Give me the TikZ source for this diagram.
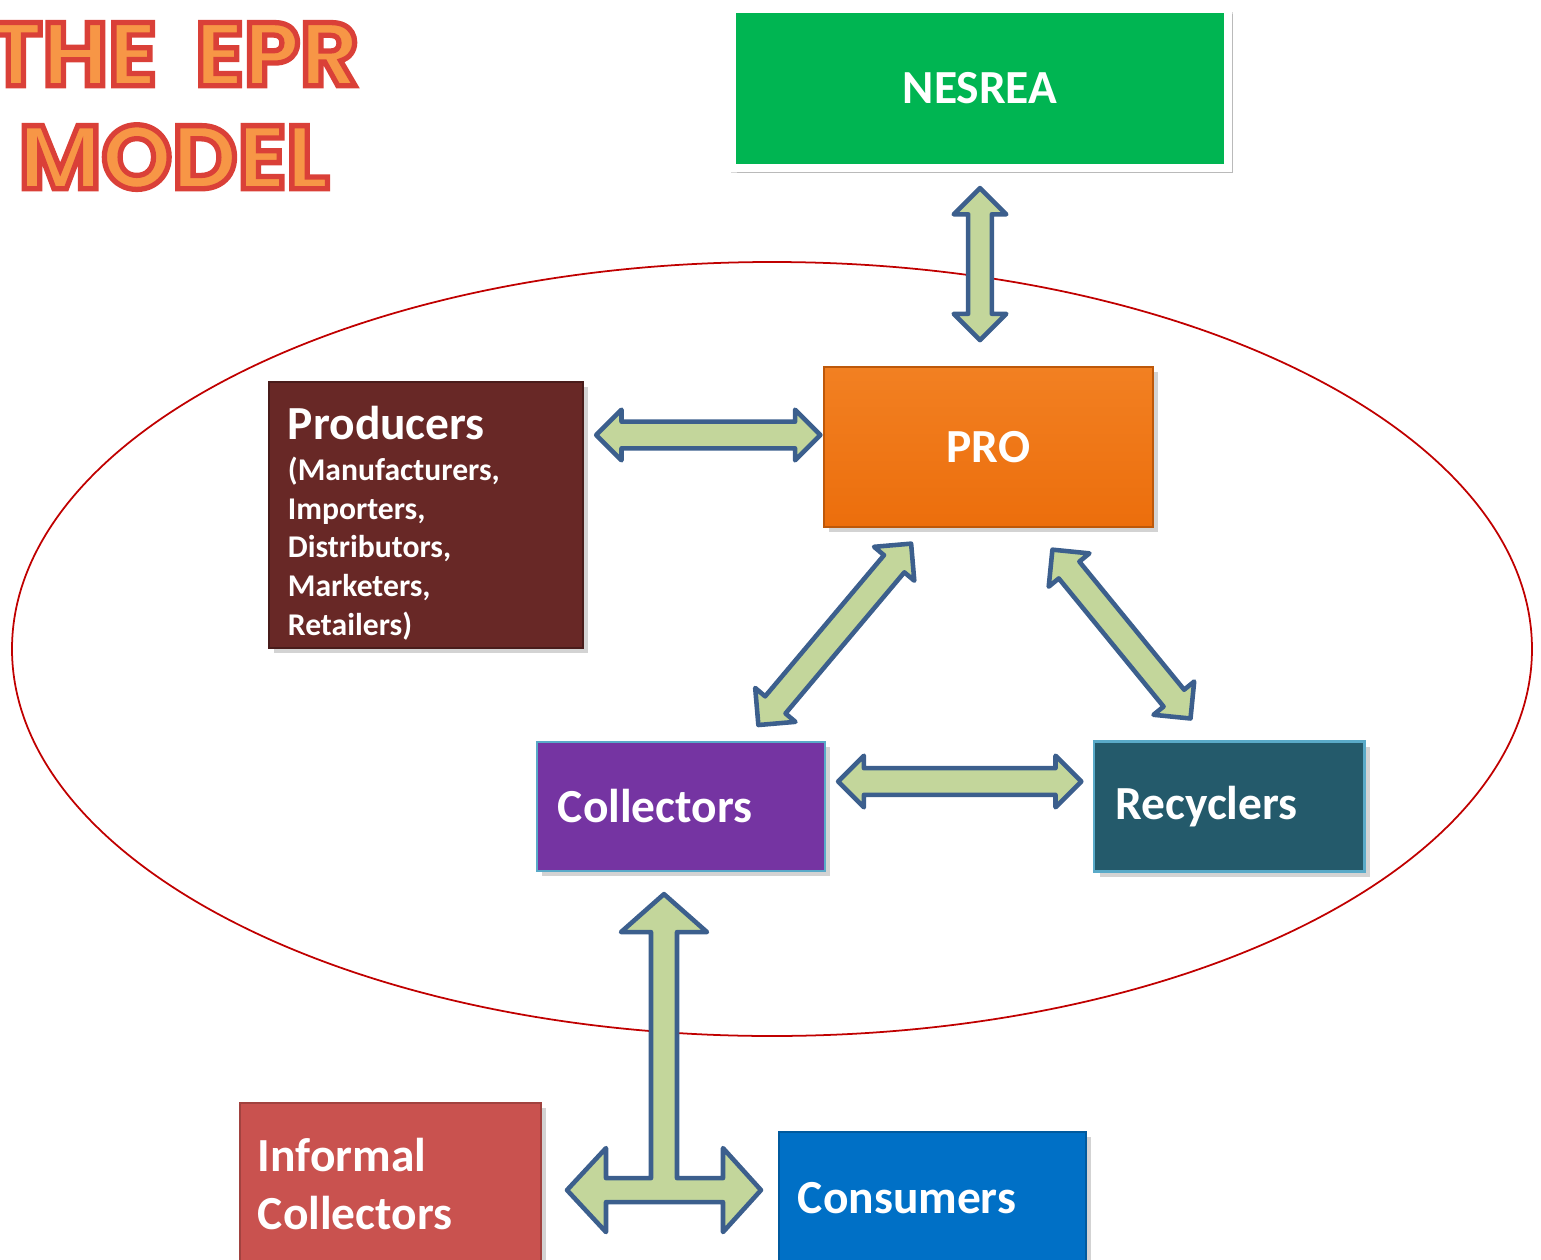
\documentclass[tikz,border=0pt]{standalone}
\usepackage{fontspec}
\setmainfont{Carlito}
\newfontfamily\titlefont{Poppins}
\usetikzlibrary{positioning,calc,shapes.arrows,shadows}
\definecolor{nesgreen}{RGB}{0,181,82}
\definecolor{proorange}{RGB}{236,110,12}
\definecolor{prolight}{RGB}{242,128,34}
\definecolor{prodred}{RGB}{104,40,38}
\definecolor{collpurple}{RGB}{117,52,162}
\definecolor{collborder}{RGB}{90,170,200}
\definecolor{recteal}{RGB}{36,90,107}
\definecolor{infred}{RGB}{201,82,79}
\definecolor{consblue}{RGB}{0,112,198}
\definecolor{arrgreen}{RGB}{195,214,155}
\definecolor{arrblue}{RGB}{60,95,141}
\definecolor{ellred}{RGB}{192,0,0}
\definecolor{titleorange}{RGB}{247,150,70}
% roter Umriss um die Titelbuchstaben
\newcommand\outlinetext[1]{\special{pdf:literal direct 2 Tr 1.5 w 0.855 0.251 0.22 RG}#1\special{pdf:literal direct 0 Tr}}
\tikzset{
  box/.style = {rectangle, text=white, align=left,
                inner ysep=0pt,
                font=\bfseries\fontsize{13.5}{16.5}\selectfont,
                drop shadow={shadow xshift=1.5pt, shadow yshift=-1.5pt, opacity=.35}},
  titletext/.style = {font=\titlefont\bfseries\fontsize{25.6}{29.3}\selectfont,
                text=titleorange, align=center, inner sep=0pt}
}
\begin{document}
\begin{tikzpicture}[x=0.01cm, y=-0.01cm,
      dblarr/.style={double arrow, draw=arrblue, fill=arrgreen,
        line width=1.3pt, line join=round, inner xsep=0pt, inner ysep=0.11cm,
        double arrow head extend=0.12cm},
      tarr/.style={draw=arrblue, fill=arrgreen, line width=1.3pt, line join=round}
    ]
    \useasboundingbox (0,0) rectangle (1541,1260);
    \draw[ellred, line width=0.5pt] (772,649) ellipse [x radius=760, y radius=387];

    \node[box, align=center, fill=nesgreen, draw=white, line width=2.2pt,
          drop shadow={shadow xshift=0.5pt, shadow yshift=-1pt, shadow scale=1.012, opacity=.3},
          minimum width=4.96cm, minimum height=1.59cm] (nesrea) at (980,88.5) {NESREA};
    \node[box, align=center, top color=prolight, bottom color=proorange, draw=proorange!80!black,
          line width=0.4pt, minimum width=3.29cm, minimum height=1.6cm] (pro) at (988.5,447) {PRO};
    \node[box, fill=prodred, draw=prodred!70!black, line width=0.4pt, text width=2.76cm,
          inner xsep=0.19cm, minimum height=2.66cm] (prod) at (426,515)
          {Producers\par\vspace{0.6pt}{\fontsize{9}{11}\selectfont (Manufacturers,\\ Importers,\\ Distributors,\\ Marketers,\\ Retailers)\par}\vspace{-4.6pt}};
    \node[box, fill=collpurple, draw=collborder, line width=0.6pt, text width=2.46cm,
          inner xsep=0.21cm, minimum height=1.29cm] (coll) at (681,806.5) {Collectors};
    \node[box, fill=recteal, draw=collborder, line width=0.6pt, text width=2.28cm,
          inner xsep=0.21cm, minimum height=1.3cm, right=2.67cm of coll] (rec) {Recyclers};
    \node[box, fill=infred, draw=infred!80!black, line width=0.4pt, text width=2.65cm,
          inner xsep=0.18cm, minimum height=1.62cm] (infc) at (390.5,1184) {Informal\\ Collectors};
    \node[box, fill=consblue, draw=consblue!80!black, line width=0.4pt, text width=2.69cm,
          inner xsep=0.19cm, minimum height=1.32cm] (cons) at (932.5,1198) {Consumers};

    % Doppelpfeile zwischen den Kaesten
    \path (nesrea.south) -- node[dblarr, sloped, minimum height=1.52cm, inner ysep=0.095cm,
          double arrow head extend=0.145cm] (nespro) {} ($(nesrea.south |- pro.north)+(0,-10)$);
    \path ($(prod.east)+(0,-80)$) -- node[dblarr, sloped, pos=0.52, minimum height=2.24cm] (prodpro) {} ($(pro.west)+(0,-12)$);
    \path ($(coll.north)+(64,0)$) -- node[dblarr, sloped, minimum height=2.37cm, double arrow head extend=0.13cm] (collpro) {} ($(pro.south)+(-64,0)$);
    \path ($(pro.south)+(46,0)$) -- node[dblarr, sloped, minimum height=2.18cm, double arrow head extend=0.13cm] (prorec) {} ($(rec.north)+(-21,0)$);
    \path ($(coll.east)+(0,-25)$) -- node[dblarr, sloped, minimum height=2.43cm, double arrow head extend=0.125cm] (collrec) {} ($(rec.west)+(0,-25)$);

    \coordinate (ttop) at ($(coll.south)+(-17,22)$);
    \draw[tarr] (ttop) -- ++(43,38) -- ++(-30,0) -- ++(0,246) -- ++(46,0) -- ++(0,-30)
      -- ++(38,42) -- ++(-38,42) -- ++(0,-30) -- ++(-117,0) -- ++(0,30) -- ++(-39,-42)
      -- ++(39,-42) -- ++(0,30) -- ++(45,0) -- ++(0,-246) -- ++(-30,0) -- cycle;

    \node[titletext] (title) at (174,106) {\outlinetext{THE~~EPR}\\\outlinetext{MODEL}};
  \end{tikzpicture}
\end{document}
